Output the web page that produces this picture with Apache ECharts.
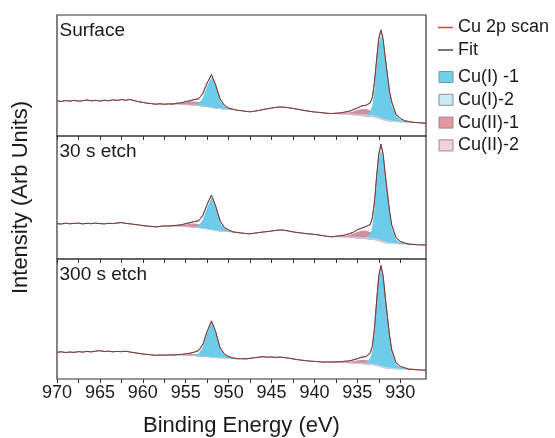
<!DOCTYPE html>
<html>
<head>
<meta charset="utf-8">
<script src="https://cdn.jsdelivr.net/npm/echarts@6/dist/echarts.min.js"></script>
<style>
  html, body { margin: 0; padding: 0; background: #fff; }
  #chart { width: 555px; height: 438px; }
</style>
</head>
<body>
<div id="chart"></div>
<script>
// Binding-energy grid of the recorded Cu 2p spectra (eV)
const energy = [
  970, 969.5, 969, 968.5, 968, 967.5, 967, 966.5, 966, 965.5,
  965, 964.5, 964, 963.5, 963, 962.5, 962, 961.5, 961, 960.5,
  960, 959.5, 959, 958.5, 958, 957.5, 957, 956.5, 956, 955.5,
  955, 954.5, 954, 953.5, 953, 952.5, 952, 951.5, 951, 950.5,
  950, 949.5, 949, 948.5, 948, 947.5, 947, 946.5, 946, 945.5,
  945, 944.5, 944, 943.5, 943, 942.5, 942, 941.5, 941, 940.5,
  940, 939.5, 939, 938.5, 938, 937.5, 937, 936.5, 936, 935.5,
  935, 934.5, 934, 933.5, 933.25, 933, 932.75, 932.5, 932.25, 932,
  931.75, 931.5, 931.25, 931, 930.5, 930, 929.5, 929, 928.5, 928,
  927.5, 927
];

// Energies of the two fitted windows (2p1/2, then 2p3/2)
const fitEnergy = [
  957.5, 957, 956.5, 956, 955.5, 955, 954.5, 954, 953.5, 953, 952.5, 952, 951.5, 951, 950.5, 950, 949.5, 949,
  938, 937.5, 937, 936.5, 936, 935.5, 935, 934.5, 934, 933.5, 933.25, 933, 932.75, 932.5, 932.25, 932,
  931.75, 931.5, 931.25, 931, 930.5, 930, 929.5, 929, 928.5, 928
];

const tickValues = [970, 967.5, 965, 962.5, 960, 957.5, 955, 952.5, 950, 947.5, 945, 942.5, 940, 937.5, 935, 932.5, 930];
const labelValues = [970, 965, 960, 955, 950, 945, 940, 935, 930];
const sampleNames = ['Surface', '30 s etch', '300 s etch'];
const intensityMax = [121, 123, 120];

// ---- Surface ----
const scanSurface = [
  35.2, 34.6, 35.4, 34.9, 35.6, 34.8, 35.3, 36.0, 35.1, 35.7,
  34.9, 35.8, 35.2, 36.2, 35.6, 36.4, 35.8, 36.5, 35.4, 34.3,
  33.6, 32.8, 32.4, 31.8, 32.2, 31.6, 32.3, 31.8, 32.9, 33.0,
  34.6, 35.0, 36.6, 37.0, 42.8, 53.0, 61.3, 50.2, 36.8, 30.6,
  27.4, 26.9, 25.6, 25.3, 24.6, 24.2, 24.8, 25.5, 26.4, 27.2,
  28.0, 28.6, 29.0, 28.8, 28.2, 27.6, 26.8, 26.0, 25.2, 24.6,
  24.0, 23.6, 23.2, 22.7, 22.3, 22.9, 22.8, 24.0, 24.4, 26.5,
  27.8, 30.3, 30.6, 33.5, 38.4, 54.2, 76.5, 98.0, 105.8, 97.2,
  78.0, 61.5, 44.2, 34.6, 21.2, 17.9, 15.1, 14.6, 13.5, 13.6,
  13.0, 12.8
];
const bgSurface = [
  31.7, 31.6, 31.5, 31.4, 31.2, 31.0, 30.7, 30.4, 30.0, 29.6, 29.0, 28.2, 27.4, 26.9, 26.5, 26.2, 26.0, 25.8,
  22.2, 22.0, 21.8, 21.5, 21.2, 20.8, 20.4, 20.0, 19.6, 19.2, 19.0, 18.7, 18.3, 17.6, 16.8, 16.0,
  15.3, 14.8, 14.5, 14.2, 14.0, 13.8, 13.6, 13.5, 13.4, 13.3
];
const cuI1Surface = [
  0, 0, 0, 0, 0, 0, 0.3, 0.9, 2.5, 8.7, 21.0, 30.5, 21.5, 8.4, 3.1, 1.2, 0.5, 0,
  0, 0, 0, 0, 0, 0, 0.4, 0.8, 1.7, 5.1, 11.8, 27.9, 52.4, 74.4, 84.5, 76.1,
  59.2, 42.3, 27.0, 16.9, 5.9, 2.5, 1.3, 0.6, 0.3, 0
];
const cuI2Surface = [
  0, 0, 0, 0, 0, 0, 0, 0, 0, 0, 0.1, 0.3, 0.6, 0.8, 0.6, 0.3, 0.1, 0,
  0, 0, 0, 0, 0, 0, 0, 0, 0, 0, 0.1, 0.2, 0.4, 0.6, 0.8, 1.1,
  1.3, 1.5, 1.5, 1.4, 1.0, 0.6, 0.3, 0.1, 0, 0
];
const cuII1Surface = [
  0.1, 0.2, 0.4, 0.8, 1.5, 2.5, 3.6, 4.2, 4.0, 3.3, 2.5, 1.8, 1.1, 0.6, 0.3, 0.1, 0, 0,
  0.1, 0.3, 0.7, 1.3, 2.3, 3.8, 5.6, 7.1, 7.5, 6.6, 5.9, 5.0, 4.1, 3.2, 2.5, 1.9,
  1.4, 1.0, 0.7, 0.5, 0.2, 0.1, 0, 0, 0, 0
];
const cuII2Surface = [
  0.1, 0.2, 0.3, 0.5, 0.6, 0.7, 0.8, 0.8, 0.8, 0.7, 0.7, 0.6, 0.5, 0.4, 0.3, 0.2, 0.1, 0,
  0.2, 0.4, 0.6, 0.9, 1.2, 1.5, 1.7, 1.9, 2.0, 2.0, 1.9, 1.9, 1.8, 1.7, 1.6, 1.5,
  1.3, 1.2, 1.0, 0.9, 0.6, 0.4, 0.2, 0.1, 0, 0
];

// ---- 30 s etch ----
const scanEtch30 = [
  35.4, 35.0, 35.8, 35.2, 35.6, 35.9, 35.1, 35.7, 35.3, 35.9,
  35.4, 35.1, 35.7, 35.4, 36.0, 36.4, 35.6, 35.2, 34.6, 34.1,
  33.4, 32.9, 32.6, 32.1, 32.6, 33.2, 32.9, 33.6, 33.5, 34.1,
  35.5, 36.2, 37.6, 38.0, 43.8, 54.6, 63.9, 52.3, 38.5, 31.2,
  29.3, 27.0, 26.7, 26.0, 25.5, 25.2, 25.8, 26.4, 27.0, 27.4,
  28.0, 28.6, 29.1, 28.7, 28.0, 27.1, 26.5, 26.0, 25.4, 25.0,
  24.6, 24.0, 23.3, 22.6, 22.0, 22.8, 23.3, 23.7, 25.3, 26.4,
  29.4, 30.7, 32.6, 34.3, 41.3, 56.8, 83.2, 104.8, 114.6, 105.3,
  84.6, 66.3, 47.6, 34.3, 21.7, 17.4, 16.2, 14.8, 14.7, 14.3,
  14.1, 14.0
];
const bgEtch30 = [
  32.8, 32.7, 32.6, 32.5, 32.3, 32.0, 31.7, 31.3, 30.9, 30.4, 29.8, 29.0, 28.2, 27.6, 27.2, 26.9, 26.6, 26.4,
  22.0, 21.9, 21.7, 21.5, 21.2, 20.9, 20.6, 20.2, 19.9, 19.5, 19.3, 19.0, 18.6, 18.0, 17.3, 16.6,
  16.0, 15.6, 15.3, 15.1, 14.9, 14.7, 14.5, 14.4, 14.3, 14.2
];
const cuI1Etch30 = [
  0, 0, 0, 0, 0, 0, 0.3, 1.0, 2.6, 9.0, 21.8, 32.0, 22.4, 8.6, 3.2, 1.3, 0.5, 0,
  0, 0, 0, 0, 0, 0, 0.5, 0.9, 1.9, 5.6, 13.0, 30.5, 57.4, 81.4, 92.5, 83.3,
  64.8, 46.3, 29.6, 15.7, 4.6, 1.9, 0.9, 0.4, 0.2, 0
];
const cuI2Etch30 = [
  0, 0, 0, 0, 0, 0, 0, 0, 0, 0, 0.1, 0.3, 0.6, 0.8, 0.6, 0.3, 0.1, 0,
  0, 0, 0, 0, 0, 0, 0, 0, 0, 0, 0.1, 0.2, 0.4, 0.6, 0.8, 1.1,
  1.3, 1.5, 1.5, 1.4, 1.0, 0.6, 0.3, 0.1, 0, 0
];
const cuII1Etch30 = [
  0.1, 0.2, 0.4, 0.8, 1.5, 2.5, 3.6, 4.2, 4.0, 3.3, 2.5, 1.8, 1.1, 0.6, 0.3, 0.1, 0, 0,
  0.1, 0.3, 0.8, 1.5, 2.6, 4.3, 6.3, 8.0, 8.5, 7.5, 6.7, 5.7, 4.6, 3.6, 2.8, 2.2,
  1.6, 1.1, 0.8, 0.6, 0.2, 0.1, 0, 0, 0, 0
];
const cuII2Etch30 = [
  0.1, 0.2, 0.3, 0.5, 0.6, 0.7, 0.8, 0.8, 0.8, 0.7, 0.7, 0.6, 0.5, 0.4, 0.3, 0.2, 0.1, 0,
  0.2, 0.4, 0.6, 0.9, 1.2, 1.5, 1.7, 1.9, 2.0, 2.0, 1.9, 1.9, 1.8, 1.7, 1.6, 1.5,
  1.3, 1.2, 1.0, 0.9, 0.6, 0.4, 0.2, 0.1, 0, 0
];

// ---- 300 s etch ----
const scanEtch300 = [
  26.7, 27.2, 26.5, 27.0, 26.6, 27.4, 26.9, 27.6, 27.1, 27.9,
  28.3, 27.5, 27.8, 27.2, 27.6, 27.3, 27.8, 27.0, 26.3, 25.7,
  25.0, 24.6, 24.1, 23.7, 24.0, 23.6, 24.3, 23.9, 24.6, 24.5,
  25.3, 25.6, 27.1, 28.6, 34.9, 47.8, 58.2, 47.3, 31.0, 25.4,
  22.6, 21.2, 20.5, 20.3, 20.1, 20.6, 21.3, 21.8, 22.3, 21.8,
  22.0, 21.6, 21.9, 21.4, 20.8, 20.1, 19.4, 18.8, 18.3, 17.9,
  17.6, 17.3, 16.9, 17.1, 16.7, 17.4, 17.0, 17.9, 17.8, 19.3,
  20.1, 22.0, 22.4, 26.3, 32.4, 51.3, 78.0, 103.3, 113.2, 103.5,
  82.0, 62.9, 43.7, 29.6, 16.7, 12.3, 11.4, 9.7, 9.8, 9.1,
  9.0, 8.7
];
const bgEtch300 = [
  23.8, 23.8, 23.7, 23.6, 23.5, 23.3, 23.1, 22.9, 22.6, 22.3, 21.9, 21.5, 21.0, 20.7, 20.5, 20.3, 20.2, 20.1,
  16.8, 16.6, 16.4, 16.1, 15.8, 15.5, 15.2, 14.9, 14.6, 14.3, 14.1, 13.8, 13.4, 12.8, 12.1, 11.4,
  10.8, 10.4, 10.1, 9.9, 9.7, 9.6, 9.5, 9.4, 9.3, 9.2
];
const cuI1Etch300 = [
  0, 0, 0, 0, 0, 0, 0.3, 1.0, 2.8, 9.7, 23.5, 34.5, 24.2, 9.3, 3.5, 1.4, 0.5, 0,
  0, 0, 0, 0, 0, 0, 0.5, 1.0, 2.0, 5.9, 13.7, 32.3, 60.8, 86.2, 98.0, 88.2,
  68.6, 49.0, 31.4, 16.7, 4.9, 2.0, 1.0, 0.4, 0.2, 0
];
const cuI2Etch300 = [
  0, 0, 0, 0, 0, 0, 0, 0, 0, 0, 0.1, 0.3, 0.6, 0.8, 0.6, 0.3, 0.1, 0,
  0, 0, 0, 0, 0, 0, 0, 0, 0, 0, 0.1, 0.2, 0.4, 0.6, 0.8, 1.1,
  1.3, 1.5, 1.5, 1.4, 1.0, 0.6, 0.3, 0.1, 0, 0
];
const cuII1Etch300 = [
  0, 0.1, 0.2, 0.4, 0.8, 1.3, 1.9, 2.2, 2.1, 1.7, 1.3, 0.9, 0.6, 0.3, 0.1, 0, 0, 0,
  0.1, 0.2, 0.4, 0.8, 1.4, 2.3, 3.4, 4.3, 4.5, 4.0, 3.5, 3.0, 2.5, 1.9, 1.5, 1.1,
  0.8, 0.6, 0.4, 0.3, 0.1, 0.1, 0, 0, 0, 0
];
const cuII2Etch300 = [
  0.1, 0.1, 0.2, 0.3, 0.4, 0.5, 0.6, 0.6, 0.6, 0.6, 0.5, 0.5, 0.4, 0.3, 0.2, 0.1, 0.1, 0,
  0.2, 0.3, 0.5, 0.7, 0.9, 1.1, 1.3, 1.4, 1.5, 1.5, 1.4, 1.4, 1.4, 1.3, 1.2, 1.1,
  1.0, 0.9, 0.8, 0.7, 0.5, 0.3, 0.2, 0.1, 0, 0
];

const samples = [
  { scan: scanSurface, bg: bgSurface, comps: [cuI1Surface, cuI2Surface, cuII1Surface, cuII2Surface] },
  { scan: scanEtch30, bg: bgEtch30, comps: [cuI1Etch30, cuI2Etch30, cuII1Etch30, cuII2Etch30] },
  { scan: scanEtch300, bg: bgEtch300, comps: [cuI1Etch300, cuI2Etch300, cuII1Etch300, cuII2Etch300] }
];

// Component styling: legend swatch colour, fill colour, fill opacity, draw order
const componentNames = ['Cu(I) -1', 'Cu(I)-2', 'Cu(II)-1', 'Cu(II)-2'];
const componentStyle = [
  { legend: '#6fd0ec', fill: '#6ccdea', opacity: 1.0, z: 3 },
  { legend: '#cbe9f5', fill: '#bfe3f2', opacity: 0.85, z: 4 },
  { legend: '#e8959f', fill: '#c98593', opacity: 0.9, z: 2 },
  { legend: '#f2cfe1', fill: '#e3c0d6', opacity: 0.85, z: 4 }
];

const FONT = "Arial, 'Liberation Sans', sans-serif";
const TEXT = '#1a1a1a';
const FRAME = '#333333';
const panelTop = [15, 136, 259];
const panelLeft = 57;
const panelRight = 129;

// Fit envelope: background plus all components inside the fitted windows, the scan elsewhere
function envelope(sample) {
  return energy.map((e, i) => {
    const k = fitEnergy.indexOf(e);
    if (k < 0) return [e, sample.scan[i]];
    let v = sample.bg[k];
    sample.comps.forEach(c => { v += c[k]; });
    return [e, Math.round(v * 100) / 100];
  });
}

// Filled component band between the background and background + component
function bandSeries(p, ci, sample) {
  const st = componentStyle[ci];
  const comp = sample.comps[ci];
  const pts = fitEnergy.map((e, i) => [e, sample.bg[i] + comp[i], sample.bg[i]]);
  return {
    type: 'custom',
    name: componentNames[ci],
    coordinateSystem: 'cartesian2d',
    xAxisIndex: p, yAxisIndex: p,
    itemStyle: { color: st.legend },
    data: pts,
    encode: { x: 0, y: 1 },
    z: st.z,
    silent: true,
    renderItem(params, api) {
      if (params.dataIndex !== 0) return null;
      const children = [];
      let seg = [];
      const flush = () => {
        if (seg.length > 1) {
          const upper = seg.map(q => api.coord([q[0], q[1]]));
          const lower = seg.slice().reverse().map(q => api.coord([q[0], q[2]]));
          children.push({
            type: 'polygon',
            shape: { points: upper.concat(lower) },
            style: { fill: st.fill, opacity: st.opacity }
          });
        }
        seg = [];
      };
      pts.forEach((q, i) => {
        if (i > 0 && Math.abs(q[0] - pts[i - 1][0]) > 1) flush();
        seg.push(q);
      });
      flush();
      return { type: 'group', children };
    }
  };
}

const grids = [], xAxes = [], yAxes = [], series = [], graphics = [];
samples.forEach((s, p) => {
  grids.push({
    left: panelLeft, right: panelRight, top: panelTop[p], height: intensityMax[p],
    show: true, borderColor: FRAME, borderWidth: 1.2, backgroundColor: 'transparent'
  });
  const bottom = p === samples.length - 1;
  xAxes.push({
    type: 'value', gridIndex: p, min: 927, max: 970, inverse: true,
    axisLine: { show: false },
    axisTick: { show: true, customValues: tickValues, length: 4, inside: false, lineStyle: { color: FRAME, width: 1 } },
    axisLabel: { show: bottom, customValues: labelValues, fontSize: 18, color: TEXT, fontFamily: FONT, margin: 5 },
    splitLine: { show: false },
    name: bottom ? 'Binding Energy (eV)' : '',
    nameLocation: 'middle', nameGap: 36,
    nameTextStyle: { fontSize: 22, color: TEXT, fontFamily: FONT }
  });
  yAxes.push({
    type: 'value', gridIndex: p, min: 0, max: intensityMax[p],
    axisLine: { show: false }, axisTick: { show: false }, axisLabel: { show: false },
    splitLine: { show: false },
    name: p === 1 ? 'Intensity (Arb Units)' : '',
    nameLocation: 'middle', nameGap: 25,
    nameTextStyle: { fontSize: 22, color: TEXT, fontFamily: FONT }
  });
  [2, 0, 1, 3].forEach(ci => series.push(bandSeries(p, ci, s)));
  series.push({
    type: 'line', name: 'Cu 2p scan', xAxisIndex: p, yAxisIndex: p,
    data: energy.map((e, i) => [e, s.scan[i]]),
    symbol: 'none', color: '#ee3b3b', lineStyle: { width: 1, color: '#ee3b3b' }, z: 5, silent: true
  });
  series.push({
    type: 'line', name: 'Fit', xAxisIndex: p, yAxisIndex: p,
    data: envelope(s),
    symbol: 'none', color: '#4a4a4a', lineStyle: { width: 0.9, color: '#4a4a4a' }, z: 6, silent: true
  });
  graphics.push({
    type: 'text', left: 59.5, top: panelTop[p] + 6,
    style: { text: sampleNames[p], font: '19px ' + FONT, fill: TEXT }
  });
});

const lineIcon = 'path://M0,0H20V2H0Z';
const boxStyle = { borderColor: '#8f8f8f', borderWidth: 1 };

const chart = echarts.init(document.getElementById('chart'), null, { renderer: 'canvas' });
chart.setOption({
  animation: false,
  backgroundColor: '#ffffff',
  grid: grids,
  xAxis: xAxes,
  yAxis: yAxes,
  series,
  graphic: graphics,
  legend: [
    {
      orient: 'vertical', left: 438, top: 18.5, padding: 0,
      itemWidth: 15, itemHeight: 12, itemGap: 4.5, selectedMode: false,
      textStyle: { fontSize: 18, color: TEXT, fontFamily: FONT },
      data: [
        { name: 'Cu 2p scan', icon: lineIcon },
        { name: 'Fit', icon: lineIcon }
      ]
    },
    {
      orient: 'vertical', left: 438.5, top: 68, padding: 0,
      itemWidth: 14, itemHeight: 11, itemGap: 4.8, selectedMode: false,
      textStyle: { fontSize: 18, color: TEXT, fontFamily: FONT },
      data: componentNames.map(n => ({ name: n, icon: 'rect', itemStyle: boxStyle }))
    }
  ]
});
</script>
</body>
</html>
